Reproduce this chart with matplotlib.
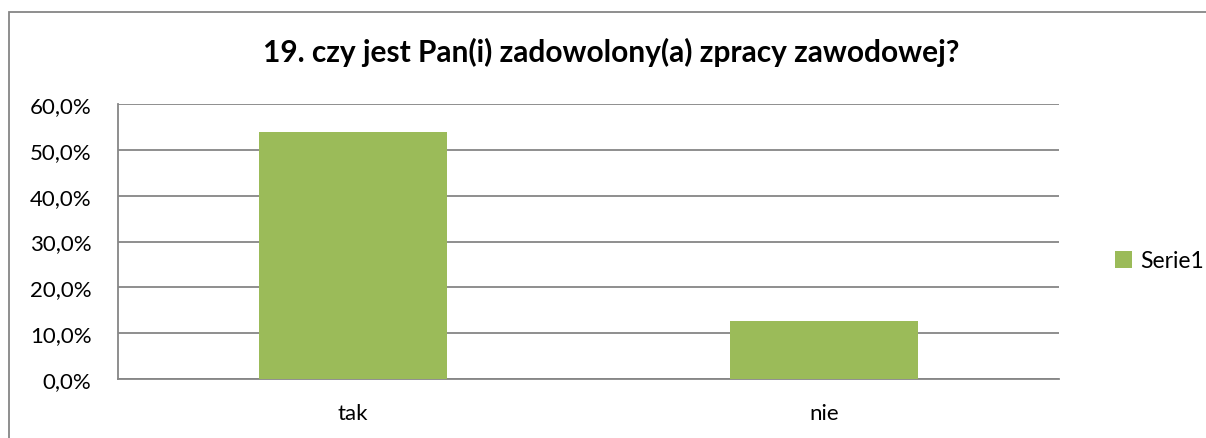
import matplotlib
matplotlib.use('Agg')
import matplotlib.pyplot as plt
from matplotlib.patches import Rectangle
from matplotlib.ticker import FuncFormatter

# Data
categories = ['tak', 'nie']
serie1 = [0.539, 0.1265]
series_name = 'Serie1'
title = '19. czy jest Pan(i) zadowolony(a) zpracy zawodowej?'

plt.rcParams['font.family'] = ['Lato', 'DejaVu Sans']

fig = plt.figure(figsize=(12.06, 4.39), dpi=100)
ax = fig.add_axes([118 / 1206, 59 / 439, 941 / 1206, 275 / 439])

# chart frame (cut off at right/bottom like the source)
fig.patches.append(Rectangle((9 / 1206, -0.1), 1.2, 1.1 - 13 / 439,
                             transform=fig.transFigure, fill=False,
                             edgecolor='#868686', linewidth=1.3))

x = list(range(len(categories)))
ax.bar(x, serie1, width=0.40, color='#9BBB59', label=series_name, zorder=3)

ax.set_xlim(-0.5, len(categories) - 0.5)
ax.set_ylim(0, 0.6)
ax.set_yticks([i / 10 for i in range(7)])
ax.yaxis.set_major_formatter(FuncFormatter(lambda v, p: f'{v * 100:.1f}%'.replace('.', ',')))
ax.set_xticks(x)
ax.set_xticklabels(categories)
ax.tick_params(axis='both', length=0, labelsize=16, colors='black')
ax.tick_params(axis='y', pad=19)
ax.tick_params(axis='x', pad=17)

ax.grid(axis='y', color='#868686', linewidth=1.3, zorder=0)
for s in ['top', 'right']:
    ax.spines[s].set_visible(False)
for s in ['left', 'bottom']:
    ax.spines[s].set_color('#868686')
    ax.spines[s].set_linewidth(1.3)

fig.text(611 / 1206, 1 - 62 / 439, title, ha='center', va='baseline',
         fontsize=21.5, fontweight='bold')

fig.legend(loc='center left', bbox_to_anchor=(1094 / 1206, 1 - 262 / 439),
           frameon=False, fontsize=16.5, handlelength=0.75, handleheight=0.75,
           handletextpad=0.35)

fig.savefig('out.png', dpi=100)
